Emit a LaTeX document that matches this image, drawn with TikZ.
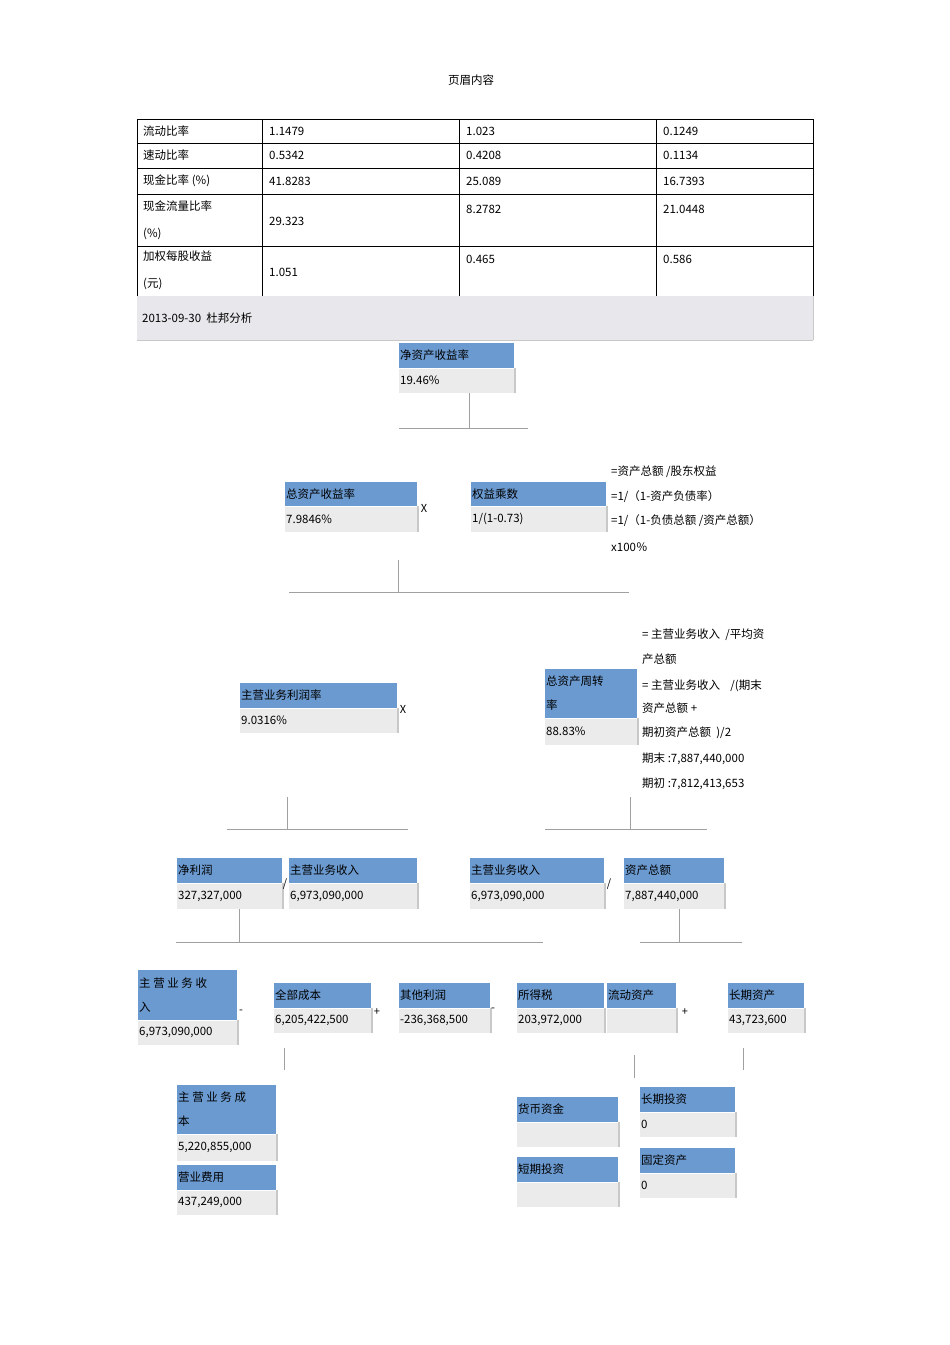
\documentclass[tikz,border=0pt]{standalone}
\usepackage{fontspec}
\setmainfont{Noto Sans CJK SC}
\definecolor{hblue}{HTML}{6B9AD0}
\definecolor{vgray}{HTML}{EBEBEB}
\definecolor{sgray}{HTML}{C8C8C8}
\definecolor{band}{HTML}{E8E8EC}
\definecolor{tline}{HTML}{A0A0A0}
\tikzset{
 txt/.style={anchor=west,inner sep=1pt,font=\fontsize{11.5}{24}\selectfont,align=left},
 op/.style={inner sep=0pt,font=\fontsize{11}{13}\selectfont},
 tree/.style={draw=tline,line width=1pt},
 note/.style={anchor=west,inner sep=0pt,font=\fontsize{11.5}{14}\selectfont}
}
% #1 name, #2 x1, #3 ytop, #4 x2, #5 ymid, #6 ybot, #7 header, #8 value
\newcommand\bx[8]{%
 \fill[hblue] (#2,#3) rectangle (#4,#5);
 \fill[vgray] (#2,#5) rectangle (#4,#6);
 \draw[sgray,line width=1.2pt] (#4+1,#5) -- (#4+1,#6);
 \draw[white,line width=0.8pt] (#2,#5) -- (#4,#5);
 \node[txt] (#1) at (#2,{(#3+#5)/2}) {#7};
 \node[txt] (#1v) at (#2,{(#5+#6)/2}) {#8};
}
\begin{document}
\begin{tikzpicture}[x=1pt,y=-1pt]
\useasboundingbox (0,0) rectangle (950,1345);
\node[note,anchor=center] (hdr) at (471,80) {页眉内容};
% table
\draw[black,line width=0.8pt] (137,119) -- (813,119);
\foreach \yy in {143,168,194,246} \draw[black,line width=0.8pt] (137,\yy) -- (813,\yy);
\foreach \xx in {137,262,459,656,813} \draw[black,line width=0.8pt] (\xx,119) -- (\xx,296);
\fill[band] (137,296) rectangle (813,340);
\draw[sgray] (137,340) -- (813,340);
\draw[sgray] (813,296) -- (813,340);
\foreach \r/\yy/\a/\b/\c/\d in {1/131/流动比率/1.1479/1.023/0.1249, 2/155/速动比率/0.5342/0.4208/0.1134, 3/181/现金比率 (\%)/41.8283/25.089/16.7393}{
 \node[note] (ta\r) at (143,\yy) {\a};
 \node[note] (tb\r) at (269,\yy) {\b};
 \node[note] (tc\r) at (466,\yy) {\c};
 \node[note] (td\r) at (663,\yy) {\d};}
\node[note,align=left,font=\fontsize{11.5}{27}\selectfont] (ta4) at (143,220) {现金流量比率\\(\%)};
\node[note] (tb4) at (269,221) {29.323};
\node[note] (tc4) at (466,209) {8.2782};
\node[note] (td4) at (663,209) {21.0448};
\node[note,align=left,font=\fontsize{11.5}{27}\selectfont] (ta5) at (143,270) {加权每股收益\\(元)};
\node[note] (tb5) at (269,272) {1.051};
\node[note] (tc5) at (466,259) {0.465};
\node[note] (td5) at (663,259) {0.586};
\node[note] (band) at (142,318) {2013-09-30\ \ 杜邦分析};
% level 1
\bx{roe}{399}{343}{514}{368}{393}{净资产收益率}{19.46\%}
\draw[tree] (469,393) -- (469,428); \draw[tree] (399,428) -- (528,428);
% level 2
\bx{roa}{285}{482}{417}{506}{532}{总资产收益率}{7.9846\%}
\node[op] (x1) at (424,508) {X};
\bx{em}{471}{482}{606}{506}{532}{权益乘数}{1/(1-0.73)}
\node[note] (n1) at (611,472) {=资产总额 /股东权益};
\node[note] (n2) at (611,497) {=1/（1-资产负债率）};
\node[note] (n3) at (611,521) {=1/（1-负债总额 /资产总额）};
\node[note] (n4) at (611,547) {x100％};
\draw[tree] (398,560) -- (398,592); \draw[tree] (289,592) -- (629,592);
% level 3
\bx{pm}{240}{683}{397}{708}{733}{主营业务利润率}{9.0316\%}
\node[op] (x2) at (403,709) {X};
\bx{at}{545}{669}{637}{718}{745}{总资产周转\\率}{88.83\%}
\node[note] (m1) at (642,635) {= 主营业务收入\ \ /平均资};
\node[note] (m2) at (642,659) {产总额};
\node[note] (m3) at (642,686) {= 主营业务收入\ \ \ \ /(期末};
\node[note] (m4) at (642,708) {资产总额\ +};
\node[note] (m5) at (642,733) {期初资产总额\ \ )/2};
\node[note] (m6) at (642,759) {期末 :7,887,440,000};
\node[note] (m7) at (642,784) {期初 :7,812,413,653};
\draw[tree] (287,797) -- (287,829); \draw[tree] (227,829) -- (408,829);
\draw[tree] (630,797) -- (630,829); \draw[tree] (545,829) -- (707,829);
% level 4
\bx{np}{177}{858}{282}{883}{909}{净利润}{327,327,000}
\node[op] (d1) at (285,884) {/};
\bx{rev1}{289}{858}{417}{883}{909}{主营业务收入}{6,973,090,000}
\bx{rev2}{470}{858}{604}{883}{909}{主营业务收入}{6,973,090,000}
\node[op] (d2) at (609,884) {/};
\bx{ta}{624}{858}{724}{883}{909}{资产总额}{7,887,440,000}
\draw[tree] (239,909) -- (239,942); \draw[tree] (176,942) -- (543,942);
\draw[tree] (679,909) -- (679,942); \draw[tree] (640,942) -- (742,942);
% level 5
\bx{rev3}{138}{970}{237}{1020}{1045}{主 营 业 务 收\\入}{6,973,090,000}
\node[op] (s1) at (241,1012) {-};
\bx{cost}{274}{983}{371}{1008}{1033}{全部成本}{6,205,422,500}
\node[op] (s2) at (377,1012) {+};
\bx{oth}{399}{983}{490}{1008}{1033}{其他利润}{-236,368,500}
\node[op] (s3) at (493,1010) {-};
\bx{tax}{517}{983}{604}{1008}{1033}{所得税}{203,972,000}
\bx{ca}{607}{983}{676}{1008}{1033}{流动资产}{}
\node[op] (s4) at (685,1012) {+};
\bx{nca}{728}{983}{804}{1008}{1033}{长期资产}{43,723,600}
\draw[tree] (284,1048) -- (284,1070);
\draw[tree] (634,1055) -- (634,1078);
\draw[tree] (743,1048) -- (743,1070);
% level 6
\bx{mc}{177}{1085}{276}{1134}{1161}{主 营 业 务 成\\本}{5,220,855,000}
\bx{se}{177}{1165}{276}{1190}{1215}{营业费用}{437,249,000}
\bx{cash}{517}{1097}{618}{1122}{1147}{货币资金}{}
\bx{sti}{517}{1157}{618}{1182}{1207}{短期投资}{}
\bx{lti}{640}{1087}{735}{1112}{1137}{长期投资}{0}
\bx{fa}{640}{1148}{735}{1173}{1198}{固定资产}{0}
\end{tikzpicture}
\end{document}
